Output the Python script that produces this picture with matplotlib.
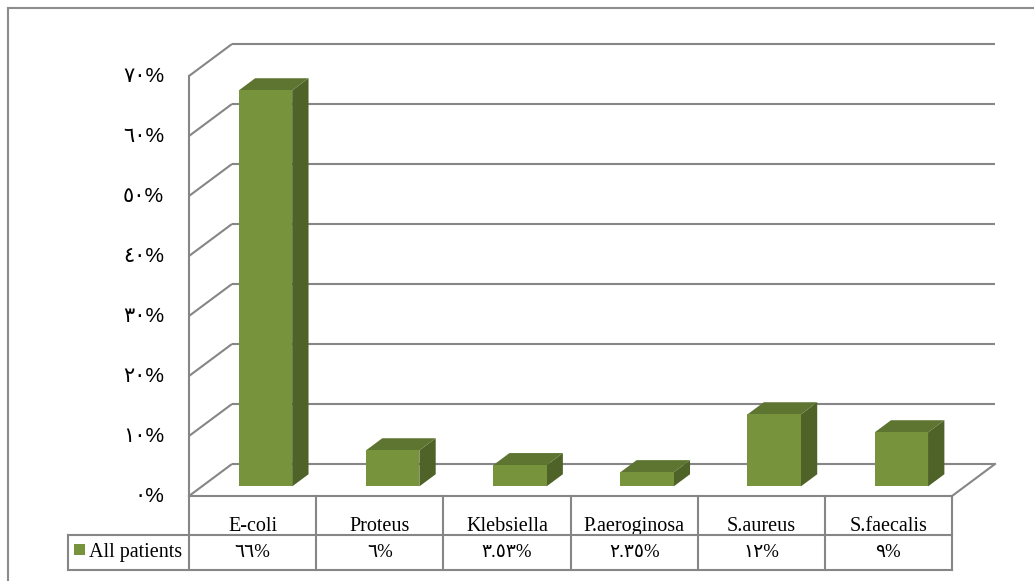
import matplotlib
matplotlib.use("Agg")
import matplotlib.pyplot as plt
from matplotlib.patches import Rectangle, Polygon
from matplotlib.lines import Line2D

# organisms isolated and their share of all patients (%)
categories = ["E-coli", "Proteus", "Klebsiella", "P.aeroginosa", "S.aureus", "S.faecalis"]
values = [66, 6, 3.53, 2.35, 12, 9]
value_labels = ["66%", "6%", "3.53%", "2.35%", "12%", "9%"]
y_ticks = [0, 10, 20, 30, 40, 50, 60, 70]
series_name = "All patients"

AR = str.maketrans("0123456789", "٠١٢٣٤٥٦٧٨٩")

FRONT = "#77933C"
SIDE = "#4F6228"
TOP = "#5E7532"
GRID = "#868686"

W, H = 1034, 581
UX = 127.17   # pixels per category
UY = 6.0      # pixels per percent
X0, Y0 = 189, 496   # pixel position of the front-left floor corner
DX, DY = 43 / UX, 32 / UY   # depth of the plot box in data units
BAR_W = 0.42
F0, F1 = 0.3, 0.68   # bar front / back depth fraction


def px(p):
    return -0.5 + (p - X0) / UX


def py(p):
    return (Y0 - p) / UY


fig = plt.figure(figsize=(W / 100, H / 100), dpi=100)
ax = fig.add_axes([0, 0, 1, 1])
ax.set_xlim(px(0), px(W))
ax.set_ylim(py(H), py(0))
ax.axis("off")

n = len(categories)
xl, xr = -0.5, n - 0.5

# walls: left wall diagonals, back wall gridlines
for v in y_ticks:
    ax.plot([xl, xl + DX], [v, v + DY], color=GRID, lw=1.5, solid_capstyle="butt")
    ax.plot([xl + DX, xr + DX], [v + DY, v + DY], color=GRID, lw=1.5,
            solid_capstyle="butt")
ax.plot([xl, xl], [0, y_ticks[-1]], color=GRID, lw=1.5)
ax.plot([xr, xr + DX], [0, DY], color=GRID, lw=1.5)

# 3d bars
for i, v in enumerate(values):
    a = i - BAR_W / 2 + F0 * DX
    b = i + BAR_W / 2 + F0 * DX
    z0 = F0 * DY
    ddx, ddy = (F1 - F0) * DX, (F1 - F0) * DY
    ax.add_patch(Polygon([(b, z0), (b, z0 + v), (b + ddx, z0 + v + ddy), (b + ddx, z0 + ddy)],
                         closed=True, facecolor=SIDE, edgecolor="none", zorder=3))
    ax.add_patch(Polygon([(a, z0 + v), (b, z0 + v), (b + ddx, z0 + v + ddy), (a + ddx, z0 + v + ddy)],
                         closed=True, facecolor=TOP, edgecolor="none", zorder=3))
    ax.add_patch(Rectangle((a, z0), b - a, v, facecolor=FRONT, edgecolor="none", zorder=4))

# y axis labels
for v in y_ticks:
    ax.text(px(164), v, f"{v}%".translate(AR), ha="right", va="center",
            fontsize=15, family=["Liberation Sans", "DejaVu Sans"], color="black")

# data table under the chart
r0, r1, r2 = 0, py(535), py(570)
leg_l = px(68)
tkw = dict(color=GRID, lw=1.5, solid_capstyle="projecting", zorder=5)
ax.plot([xl, xr], [r0, r0], **tkw)
ax.plot([xl, xr], [r1, r1], **tkw)
ax.plot([leg_l, xl], [r1, r1], **tkw)
ax.plot([leg_l, xr], [r2, r2], **tkw)
ax.plot([leg_l, leg_l], [r1, r2], **tkw)
for k in range(n + 1):
    ax.plot([k - 0.5, k - 0.5], [r0, r2], **tkw)

serif = ["Liberation Serif", "DejaVu Sans"]
for i, (c, lab) in enumerate(zip(categories, value_labels)):
    ax.text(i, py(531), c, ha="center", va="baseline", fontsize=14.5, family=serif)
    ax.text(i, (r1 + r2) / 2, lab.translate(AR), ha="center", va="center",
            fontsize=13.5, family=serif)

ax.add_patch(Rectangle((px(74), py(555)), 11 / UX, 11 / UY, facecolor=FRONT,
                       edgecolor="none", zorder=5))
ax.text(px(89), py(557), series_name, ha="left", va="baseline", fontsize=14.5,
        family=serif)

# chart area border (top and left)
fig.add_artist(Line2D([8 / W, 1], [1 - 8 / H, 1 - 8 / H], color="#8c8c8c", lw=1.5))
fig.add_artist(Line2D([8 / W, 8 / W], [0, 1 - 8 / H], color="#8c8c8c", lw=1.5))

fig.savefig("out.png", dpi=100)
